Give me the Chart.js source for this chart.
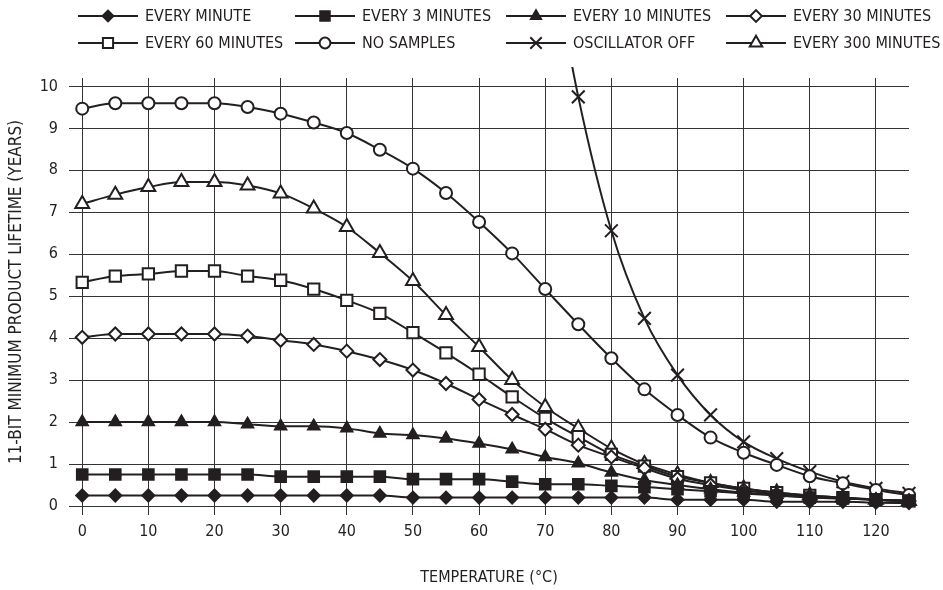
<!DOCTYPE html>
<html><head><meta charset="utf-8">
<script src="https://cdn.jsdelivr.net/npm/chart.js@4/dist/chart.umd.min.js"></script>
<style>html,body{margin:0;padding:0;background:#fff}canvas{display:block}</style>
</head><body>
<canvas id="c" width="943" height="590"></canvas>
<script>
const temps = [0,5,10,15,20,25,30,35,40,45,50,55,60,65,70,75,80,85,90,95,100,105,110,115,120,125];
const seriesNames = ['EVERY MINUTE','EVERY 3 MINUTES','EVERY 10 MINUTES','EVERY 30 MINUTES','EVERY 60 MINUTES','NO SAMPLES','OSCILLATOR OFF','EVERY 300 MINUTES'];
const everyMinute = [0.25,0.25,0.25,0.25,0.25,0.25,0.25,0.25,0.25,0.25,0.2,0.2,0.2,0.2,0.2,0.2,0.2,0.2,0.15,0.15,0.15,0.1,0.1,0.1,0.08,0.07];
const every3Minutes = [0.75,0.75,0.75,0.75,0.75,0.75,0.7,0.7,0.7,0.7,0.64,0.64,0.64,0.58,0.52,0.52,0.48,0.45,0.4,0.35,0.3,0.25,0.2,0.18,0.15,0.12];
const every10Minutes = [2.0,2.0,2.0,2.0,2.0,1.95,1.9,1.9,1.85,1.73,1.69,1.61,1.49,1.35,1.17,1.02,0.8,0.62,0.5,0.4,0.32,0.27,0.22,0.18,0.15,0.12];
const every30Minutes = [4.02,4.1,4.1,4.1,4.1,4.05,3.95,3.85,3.69,3.49,3.24,2.92,2.54,2.18,1.83,1.45,1.17,0.9,0.65,0.5,0.38,0.28,0.22,0.18,0.15,0.12];
const every60Minutes = [5.33,5.48,5.53,5.6,5.6,5.48,5.38,5.17,4.9,4.59,4.13,3.65,3.14,2.6,2.09,1.65,1.23,0.95,0.7,0.55,0.42,0.32,0.25,0.2,0.15,0.12];
const noSamples = [9.47,9.6,9.6,9.6,9.6,9.51,9.35,9.14,8.89,8.49,8.04,7.46,6.77,6.02,5.17,4.33,3.52,2.78,2.17,1.63,1.27,0.98,0.71,0.54,0.38,0.26];
const oscillatorOff = [null,null,null,null,null,null,null,null,null,null,null,null,null,null,14,9.75,6.56,4.47,3.12,2.17,1.53,1.13,0.82,0.58,0.42,0.3];
const every300Minutes = [7.2,7.42,7.6,7.72,7.72,7.64,7.45,7.09,6.65,6.03,5.36,4.55,3.79,3.0,2.36,1.85,1.37,1.0,0.75,0.55,0.42,0.32,0.25,0.2,0.15,0.12];
const xTicks = [0,10,20,30,40,50,60,70,80,90,100,110,120];
const yTicks = [0,1,2,3,4,5,6,7,8,9,10];

const allSeries = [everyMinute, every3Minutes, every10Minutes, every30Minutes, every60Minutes, noSamples, oscillatorOff, every300Minutes];
const INK = '#231f20';
const FONT = '"Liberation Sans Narrow", "Arial Narrow", "DejaVu Sans Condensed", sans-serif';
Chart.defaults.font.family = FONT;
Chart.defaults.font.size = 16;
Chart.defaults.color = INK;

const markerStyles = [
  {pointStyle:'rectRot', filled:true, r:6},
  {pointStyle:'rect', filled:true, r:7.5},
  {pointStyle:'triangle', filled:true, r:6.5},
  {pointStyle:'rectRot', filled:false, r:6.5},
  {pointStyle:'rect', filled:false, r:8},
  {pointStyle:'circle', filled:false, r:6},
  {pointStyle:'crossRot', filled:false, r:9},
  {pointStyle:'triangle', filled:false, r:8}
];

const datasets = allSeries.map((vals, i) => {
  const m = markerStyles[i];
  return {
    label: seriesNames[i],
    data: temps.map((t, k) => ({x: t, y: vals[k]})),
    borderColor: INK,
    borderWidth: 2,
    backgroundColor: m.filled ? INK : '#fff',
    pointStyle: m.pointStyle,
    pointRadius: m.r,
    pointBorderWidth: 2,
    pointBackgroundColor: m.filled ? INK : '#fff',
    pointBorderColor: INK,
    cubicInterpolationMode: 'monotone',
    fill: false,
    spanGaps: false,
    clip: seriesNames[i] === 'OSCILLATOR OFF' ? {left: 12, top: 11, right: 12, bottom: 12} : false
  };
});

const legendCols = [78, 295, 506, 726];
const legendRows = [16, 43];
const legendPlugin = {
  id: 'customLegend',
  afterDraw(chart) {
    const ctx = chart.ctx;
    chart.data.datasets.forEach((ds, i) => {
      const x0 = legendCols[i % 4], y = legendRows[Math.floor(i / 4)];
      ctx.save();
      ctx.strokeStyle = INK; ctx.lineWidth = 2;
      ctx.beginPath(); ctx.moveTo(x0, y); ctx.lineTo(x0 + 60, y); ctx.stroke();
      ctx.fillStyle = ds.pointBackgroundColor; ctx.strokeStyle = INK; ctx.lineWidth = 2;
      Chart.helpers.drawPoint(ctx, {pointStyle: ds.pointStyle, radius: ds.pointRadius * 0.9, borderWidth: 2, rotation: 0}, x0 + 30, y);
      ctx.fillStyle = INK;
      ctx.font = '16px ' + FONT;
      ctx.textBaseline = 'middle'; ctx.textAlign = 'left';
      ctx.fillText(ds.label, x0 + 67, y + 1);
      ctx.restore();
    });
  }
};

new Chart(document.getElementById('c'), {
  type: 'line',
  data: {datasets},
  plugins: [legendPlugin],
  options: {
    responsive: false,
    animation: false,
    devicePixelRatio: 1,
    layout: {padding: {top: 78, right: 34, left: 0, bottom: 0}},
    plugins: {legend: {display: false}, tooltip: {enabled: false}},
    scales: {
      x: {
        type: 'linear', min: -2, max: 125,
        afterBuildTicks: a => { a.ticks = xTicks.map(v => ({value: v})); },
        afterFit: s => { s.height = 84; },
        grid: {color: '#333', lineWidth: 1, drawTicks: true, tickLength: 9, tickColor: '#333'},
        border: {display: false},
        ticks: {padding: 7, maxRotation: 0, autoSkip: false, font: {size: 16}},
        title: {display: true, text: 'TEMPERATURE (°C)', padding: {top: 0, bottom: 3}, font: {size: 16}}
      },
      y: {
        min: 0, max: 10.2,
        afterBuildTicks: a => { a.ticks = yTicks.map(v => ({value: v})); },
        afterFit: s => { s.width = 69; },
        grid: {color: '#333', lineWidth: 1, drawTicks: false},
        border: {display: false},
        ticks: {padding: 11, font: {size: 16}},
        title: {display: true, text: '11-BIT MINIMUM PRODUCT LIFETIME (YEARS)', padding: {top: 6, bottom: 0}, font: {size: 17}}
      }
    }
  }
});
</script>
</body></html>
